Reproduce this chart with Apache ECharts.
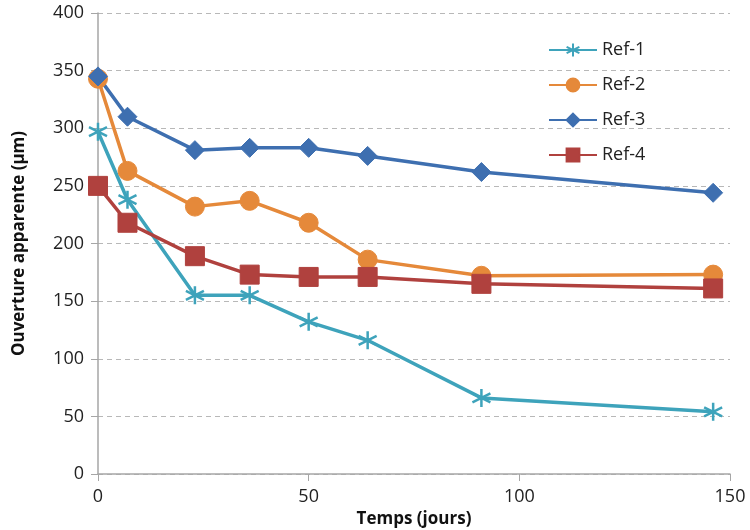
<!DOCTYPE html>
<html><head><meta charset="utf-8">
<script src="https://cdn.jsdelivr.net/npm/echarts@6/dist/echarts.min.js"></script>
<style>html,body{margin:0;padding:0;background:#fff}#c{width:750px;height:530px}</style>
</head><body><div id="c"></div>
<script>
const days = [0, 7, 23, 36, 50, 64, 91, 146];
const ref1 = [297, 238, 155, 155, 132, 116, 66, 54];
const ref2 = [343, 263, 232, 237, 218, 186, 172, 173];
const ref3 = [345, 310, 281, 283, 283, 276, 262, 244];
const ref4 = [250, 218, 189, 173, 171, 171, 165, 161];
const seriesNames = ['Ref-1', 'Ref-2', 'Ref-3', 'Ref-4'];
const xTitle = 'Temps (jours)';
const yTitle = 'Ouverture apparente (µm)';

const font = '"Open Sans", sans-serif';
const colors = ['#3EA3BB', '#E5893A', '#3E6FB0', '#B0413E'];
const asterisk = 'path://M0,-10L0,10M-8.66,-5L8.66,5M-8.66,5L8.66,-5';
const pair = arr => days.map((d, i) => [d, arr[i]]);

const chart = echarts.init(document.getElementById('c'));
const mk = (name, data, color, symbol, size, extra) => Object.assign({
  name, type: 'line', data: pair(data), symbol, symbolSize: size,
  lineStyle: { color, width: 3.5 },
  itemStyle: { color, borderColor: color, borderWidth: 1 },
  emphasis: { disabled: true }, z: 2
}, extra || {});

chart.setOption({
  animation: false,
  color: colors,
  grid: { left: 98, right: 20, top: 13, bottom: 56, containLabel: false, outerBoundsMode: 'none' },
  legend: {
    orient: 'vertical', left: 543, top: 36, itemGap: 17,
    itemWidth: 48, itemHeight: 16,
    textStyle: { fontSize: 18, color: '#222', fontFamily: font },
    data: seriesNames
  },
  xAxis: {
    type: 'value', min: 0, max: 150, interval: 50,
    name: xTitle, nameLocation: 'middle', nameGap: 37,
    nameTextStyle: { fontSize: 17, fontWeight: 'bold', color: '#111', fontFamily: font },
    axisLine: { lineStyle: { color: '#A6A6A6', width: 1.5 } },
    axisTick: { show: true, length: 7, lineStyle: { color: '#A6A6A6' } },
    axisLabel: { fontSize: 18, color: '#222', margin: 14, fontFamily: font },
    splitLine: { show: false }
  },
  yAxis: {
    type: 'value', min: 0, max: 400, interval: 50,
    name: yTitle, nameLocation: 'middle', nameGap: 70,
    nameTextStyle: { fontSize: 17, fontWeight: 'bold', color: '#111', fontFamily: font },
    axisLine: { show: true, lineStyle: { color: '#A6A6A6', width: 1.5 } },
    axisTick: { show: true, length: 7, lineStyle: { color: '#A6A6A6' } },
    axisLabel: { fontSize: 18, color: '#222', margin: 14, fontFamily: font },
    splitLine: { show: true, lineStyle: { color: '#B8B8B8', type: [5, 4], width: 1 } }
  },
  series: [
    mk(seriesNames[0], ref1, colors[0], asterisk, 18, { itemStyle: { color: 'none', borderColor: colors[0], borderWidth: 2.5 } }),
    mk(seriesNames[1], ref2, colors[1], 'circle', 19),
    mk(seriesNames[2], ref3, colors[2], 'diamond', 19),
    mk(seriesNames[3], ref4, colors[3], 'rect', 19)
  ]
});
</script></body></html>
